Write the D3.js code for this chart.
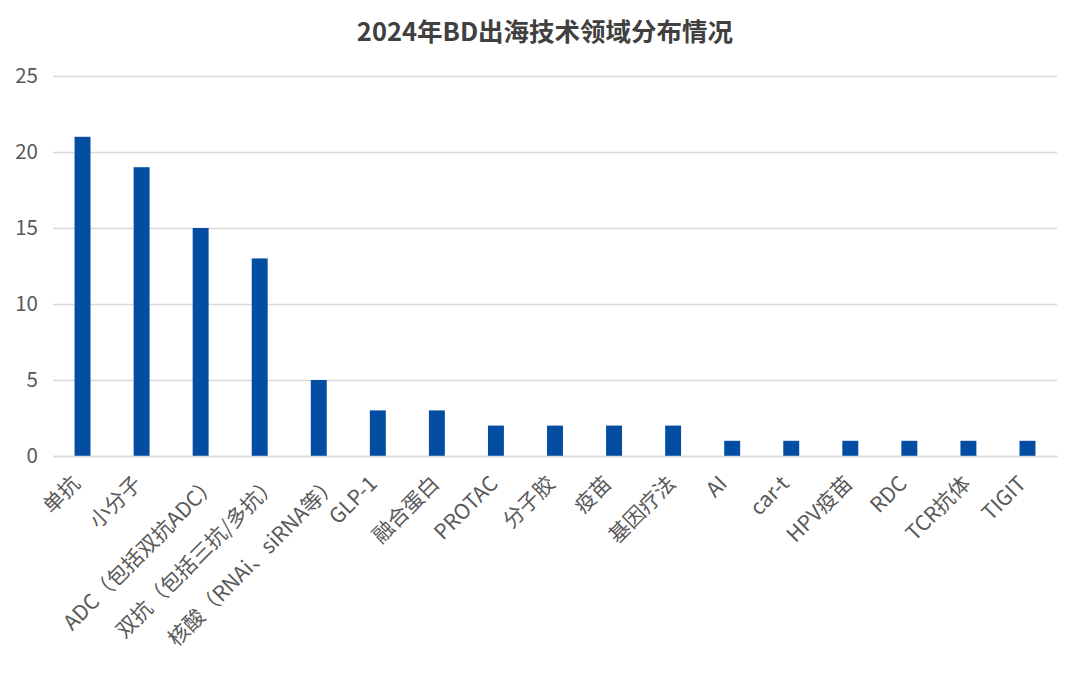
<!DOCTYPE html>
<html><head><meta charset="utf-8">
<script src="https://cdn.jsdelivr.net/npm/d3@7"></script>
<style>
html,body{margin:0;padding:0;background:#fff;}
text{font-family:"Noto Sans CJK SC","Noto Sans",sans-serif;}
</style></head>
<body><svg id="c" width="1080" height="679"></svg>
<script>
const title = "2024年BD出海技术领域分布情况";
const categories = ["单抗","小分子","ADC（包括双抗ADC）","双抗（包括三抗/多抗）","核酸（RNAi、siRNA等）","GLP-1","融合蛋白","PROTAC","分子胶","疫苗","基因疗法","AI","car-t","HPV疫苗","RDC","TCR抗体","TIGIT"];
const values = [21,19,15,13,5,3,3,2,2,2,2,1,1,1,1,1,1];
const yTicks = [0,5,10,15,20,25];

const svg = d3.select("#c");
const m = {l:53, r:1057, t:76, b:456};
const x = d3.scaleBand().domain(categories).range([m.l, m.r]).paddingInner(0.73).paddingOuter(0.365);
const y = d3.scaleLinear().domain([0,25]).range([m.b, m.t]);

svg.append("text").attr("x",545).attr("y",41).attr("text-anchor","middle")
  .attr("font-size",25.5).attr("font-weight","bold").attr("fill","#404040").text(title);

const ya = svg.append("g").attr("transform",`translate(${m.l},0)`)
  .call(d3.axisLeft(y).tickValues(yTicks).tickSize(-(m.r-m.l)).tickPadding(15));
ya.select(".domain").remove();
ya.selectAll(".tick line").attr("stroke","#d9d9d9").attr("stroke-width",1.3);
ya.selectAll(".tick text").attr("font-size",20.5).attr("fill","#595959")
  .attr("font-family","'Noto Sans','Noto Sans CJK SC',sans-serif");

svg.append("g").selectAll("rect").data(values).join("rect")
  .attr("x",(d,i)=>x(categories[i])).attr("width",x.bandwidth())
  .attr("y",d=>y(d)).attr("height",d=>y(0)-y(d)).attr("fill","#034EA2");

const xa = svg.append("g").attr("transform",`translate(0,${m.b})`)
  .call(d3.axisBottom(x).tickSize(0).tickPadding(0));
xa.select(".domain").attr("stroke","#d9d9d9").attr("stroke-width",1.3);
xa.selectAll(".tick text").attr("font-size",21).attr("fill","#595959")
  .attr("text-anchor","end").attr("dy",0)
  .attr("transform", function(){
    const L = this.getComputedTextLength();
    return `translate(${-6 + 0.116*L},29) rotate(-45)`;
  });
</script></body></html>
